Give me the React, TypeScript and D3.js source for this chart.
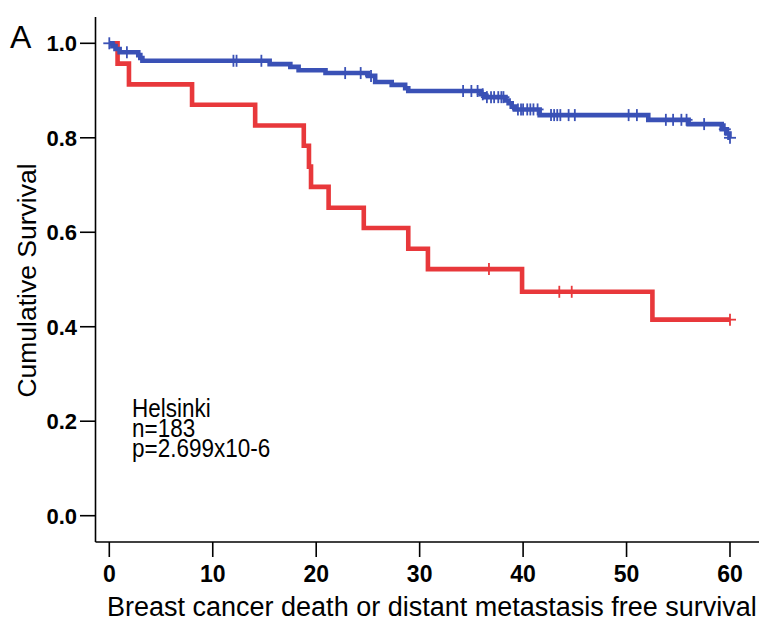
import React from "react";
import * as d3 from "d3";

const xTicks = [0, 10, 20, 30, 40, 50, 60];
const yTicks = [0, 0.2, 0.4, 0.6, 0.8, 1.0];

const redTimes = [0, 0.8, 1.9, 8.0, 14.1, 18.8, 19.3, 19.5, 21.2, 24.6, 28.9, 30.8, 39.9, 52.5];
const redSurv = [1.0, 0.957, 0.913, 0.87, 0.826, 0.783, 0.739, 0.696, 0.652, 0.609, 0.565, 0.522, 0.474, 0.415];
const redCensor = [36.7, 43.5, 44.7, 60];

const blueTimes = [0, 0.3, 0.6, 1.0, 2.8, 3.0, 3.2, 15.5, 17.5, 18.3, 20.9, 25.0, 25.7, 27.3, 28.6, 28.9, 35.9, 36.3, 38.3, 38.6, 38.9, 39.2, 41.6, 52.1, 56.0, 59.2, 59.7, 59.95];
const blueSurv = [1.0, 0.994, 0.988, 0.981, 0.975, 0.969, 0.963, 0.956, 0.95, 0.943, 0.937, 0.931, 0.918, 0.912, 0.905, 0.899, 0.892, 0.886, 0.879, 0.873, 0.866, 0.86, 0.848, 0.838, 0.829, 0.818, 0.809, 0.8];
const blueCensor = [0, 1.7, 12.0, 12.3, 14.7, 22.8, 24.3, 25.3, 34.2, 35.0, 35.6, 36.1, 36.5, 36.9, 37.2, 37.6, 37.9, 38.1, 39.5, 39.8, 40.0, 40.4, 40.7, 41.0, 41.4, 42.7, 43.0, 43.3, 43.6, 44.4, 45.0, 50.2, 51.0, 53.8, 54.5, 55.3, 55.8, 57.5, 59.5, 60];

const endTime = 60;
const annotation = ["Helsinki", "n=183", "p=2.699x10-6"];

const FONT = "'Liberation Sans', Arial, Helvetica, sans-serif";
const RED = "#e8383b";
const BLUE = "#3a51b6";

export default function App() {
  const x = d3.scaleLinear().domain([0, 60]).range([109.3, 730]);
  const y = d3.scaleLinear().domain([0, 1]).range([515.7, 43.3]);

  const line = d3
    .line<[number, number]>()
    .x((d) => x(d[0]))
    .y((d) => y(d[1]))
    .curve(d3.curveStepAfter);

  const build = (times: number[], surv: number[]): [number, number][] => {
    const pts: [number, number][] = times.map((t, i) => [t, surv[i]]);
    pts.push([endTime, surv[surv.length - 1]]);
    return pts;
  };

  const survAt = (times: number[], surv: number[], t: number) => {
    const i = d3.bisectRight(times, t) - 1;
    return surv[Math.max(0, i)];
  };

  const series = [
    { times: redTimes, surv: redSurv, censor: redCensor, color: RED },
    { times: blueTimes, surv: blueSurv, censor: blueCensor, color: BLUE },
  ];

  const axisX0 = 95.5;
  const axisY = 542;

  return (
    <svg
      width={759}
      height={622}
      style={{ position: "absolute", left: 0, top: 0, background: "#fff" }}
      fontFamily={FONT}
    >
      <rect x={0} y={0} width={759} height={622} fill="#fff" />
      {/* axes */}
      <line x1={axisX0} y1={17} x2={axisX0} y2={axisY} stroke="#000" strokeWidth={1.6} />
      <line x1={axisX0} y1={axisY} x2={759} y2={axisY} stroke="#000" strokeWidth={1.6} />
      {yTicks.map((t) => (
        <g key={"y" + t}>
          <line x1={80} x2={axisX0} y1={y(t)} y2={y(t)} stroke="#000" strokeWidth={1.6} />
          <text
            x={77}
            y={y(t) + 7.8}
            textAnchor="end"
            fontSize={22}
            fontWeight="bold"
            fill="#000"
          >
            {t.toFixed(1)}
          </text>
        </g>
      ))}
      {xTicks.map((t) => (
        <g key={"x" + t}>
          <line x1={x(t)} x2={x(t)} y1={axisY} y2={557} stroke="#000" strokeWidth={1.6} />
          <text x={x(t)} y={582} textAnchor="middle" fontSize={23} fontWeight="bold" fill="#000">
            {t}
          </text>
        </g>
      ))}
      {/* curves */}
      {series.map((s, k) => (
        <g key={"s" + k}>
          <path
            d={line(build(s.times, s.surv)) || ""}
            fill="none"
            stroke={s.color}
            strokeWidth={4.6}
            strokeLinejoin="miter"
          />
          {s.censor.map((c, j) => {
            const cx = x(c);
            const cy = y(survAt(s.times, s.surv, c));
            return (
              <g key={j} stroke={s.color} strokeWidth={1.8}>
                <line x1={cx} x2={cx} y1={cy - 6} y2={cy + 6} />
                <line x1={cx - 6} x2={cx + 6} y1={cy} y2={cy} />
              </g>
            );
          })}
        </g>
      ))}
      {/* annotation */}
      {annotation.map((a, i) => (
        <text
          key={a}
          transform={`translate(132, ${416.5 + i * 20}) scale(1, 1.12)`}
          fontSize={22.5}
          fill="#000"
        >
          {a}
        </text>
      ))}
      {/* panel label */}
      <text x={10} y={48} fontSize={32} fill="#000">
        A
      </text>
      {/* axis titles */}
      <text x={107} y={616} fontSize={27} fill="#000">
        Breast cancer death or distant metastasis free survival
      </text>
      <text
        transform={`translate(36, 280.5) rotate(-90)`}
        textAnchor="middle"
        fontSize={26.5}
        fill="#000"
      >
        Cumulative Survival
      </text>
    </svg>
  );
}
